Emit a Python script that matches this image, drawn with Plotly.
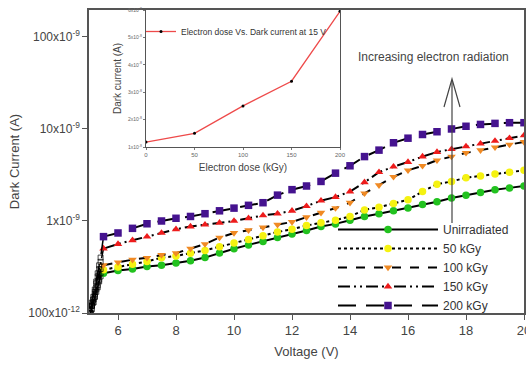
import plotly.graph_objects as go

# ---------------- data ----------------
voltage = [5.5, 6, 6.5, 7, 7.5, 8, 8.5, 9, 9.5, 10, 10.5, 11, 11.5, 12, 12.5,
           13, 13.5, 14, 14.5, 15, 15.5, 16, 16.5, 17, 17.5, 18, 18.5, 19, 19.5, 20]

# dark current in nA
unirradiated = [0.27, 0.29, 0.30, 0.32, 0.33, 0.35, 0.37, 0.40, 0.45, 0.50, 0.55, 0.60, 0.66, 0.72, 0.79,
                0.87, 0.93, 1.02, 1.12, 1.20, 1.29, 1.38, 1.51, 1.62, 1.78, 1.91, 2.04, 2.19, 2.29, 2.40]
kgy50 = [0.295, 0.316, 0.339, 0.363, 0.398, 0.417, 0.447, 0.479, 0.525, 0.575, 0.631, 0.692, 0.759, 0.813, 0.891,
         0.955, 1.02, 1.12, 1.32, 1.41, 1.55, 1.70, 2.09, 2.51, 2.69, 2.95, 3.09, 3.24, 3.39, 3.55]
kgy100 = [0.331, 0.355, 0.380, 0.398, 0.427, 0.447, 0.501, 0.562, 0.661, 0.741, 0.794, 0.851, 0.912, 0.977, 1.10,
          1.23, 1.38, 1.58, 2.00, 2.45, 3.02, 3.55, 3.98, 4.57, 5.01, 5.50, 5.89, 6.31, 6.76, 7.24]
kgy150 = [0.501, 0.562, 0.617, 0.676, 0.741, 0.813, 0.871, 0.912, 0.955, 1.00, 1.07, 1.15, 1.20, 1.29, 1.45,
          1.66, 1.82, 2.09, 2.63, 3.39, 3.89, 4.37, 5.01, 5.62, 6.03, 6.46, 6.92, 7.41, 7.94, 8.51]
kgy200 = [0.676, 0.741, 0.832, 0.933, 1.00, 1.07, 1.12, 1.20, 1.29, 1.38, 1.48, 1.58, 1.91, 2.19, 2.40,
          2.69, 3.31, 3.98, 5.01, 5.89, 7.08, 7.94, 8.71, 9.33, 10.0, 10.7, 11.2, 11.5, 11.7, 11.7]

# turn-on region (dense measurement points, nA)
rise_voltage = [5.05, 5.1, 5.15, 5.2, 5.25, 5.3, 5.35, 5.4]
rise_unirradiated = [0.10, 0.11, 0.13, 0.15, 0.17, 0.19, 0.22, 0.25]
rise_50 = [0.10, 0.12, 0.13, 0.15, 0.18, 0.20, 0.23, 0.27]
rise_100 = [0.10, 0.12, 0.14, 0.16, 0.19, 0.22, 0.26, 0.30]
rise_150 = [0.10, 0.12, 0.14, 0.17, 0.21, 0.25, 0.30, 0.36]
rise_200 = [0.11, 0.13, 0.15, 0.18, 0.22, 0.27, 0.33, 0.40]

series_names = ["Unirradiated", "50 kGy", "100 kGy", "150 kGy", "200 kGy"]

# inset: dark current at 15 V vs dose
dose = [0, 50, 100, 150, 200]
current_15v = [1.18, 1.5, 2.5, 3.4, 5.95]  # x1e-8 A

main_tickvals = [1e-10, 1e-9, 1e-8, 1e-7]
main_ticktext = ["100x10<sup>-12</sup>", "1x10<sup>-9</sup>", "10x10<sup>-9</sup>", "100x10<sup>-9</sup>"]
inset_tickvals = [1, 2, 3, 4, 5, 6]
inset_ticktext = ["%dx10<sup>-8</sup>" % v for v in inset_tickvals]

# ---------------- styles ----------------
series_values = [unirradiated, kgy50, kgy100, kgy150, kgy200]
rise_values = [rise_unirradiated, rise_50, rise_100, rise_150, rise_200]
colors = ["#22c21f", "#f5f211", "#f08a24", "#ee1c1c", "#45138f"]
symbols = ["circle", "circle", "triangle-down", "triangle-up", "square"]
dashes = ["solid", "dot", "dash", "12px,4px,2px,4px,2px,4px", "18px,10px"]

FONT = "Liberation Sans, Arial, sans-serif"

fig = go.Figure()

for name, vals, rvals, col, sym, dash in zip(series_names, series_values, rise_values, colors, symbols, dashes):
    fig.add_trace(go.Scatter(
        x=rise_voltage + [voltage[0]],
        y=[v * 1e-9 for v in rvals + [vals[0]]],
        mode="lines+markers",
        line=dict(color="black", width=1.5, dash=dash),
        marker=dict(symbol="square-open", size=[5] * len(rvals) + [0], color="black",
                    line=dict(width=1)),
        showlegend=False, hoverinfo="skip",
    ))
    fig.add_trace(go.Scatter(
        x=voltage, y=[v * 1e-9 for v in vals],
        mode="lines+markers", name=name,
        line=dict(color="black", width=2, dash=dash),
        marker=dict(symbol=sym, size=7.5, color=col, line=dict(width=0)),
    ))

fig.add_trace(go.Scatter(
    x=dose, y=current_15v, xaxis="x2", yaxis="y2",
    mode="lines+markers", name="Electron dose Vs. Dark current at 15 V",
    line=dict(color="#ee4a4a", width=1.3),
    marker=dict(symbol="circle", size=3, color="black"),
    legend="legend2",
))

L, R, T, B = 89, 2, 10, 52
W, H = 526, 365
pw, ph = W - L - R, H - T - B

def px(x):
    return (x - L) / pw

def py(y):
    return (H - B - y) / ph

fig.update_layout(
    width=W, height=H,
    margin=dict(l=L, r=R, t=T, b=B, autoexpand=False),
    paper_bgcolor="white", plot_bgcolor="white",
    font=dict(family=FONT, color="#444"),
    xaxis=dict(
        range=[5, 20], tickvals=[6, 8, 10, 12, 14, 16, 18, 20],
        ticks="outside", ticklen=5, tickwidth=1.2, tickcolor="#555",
        tickfont=dict(size=13, color="#444"), ticklabeloverflow="allow",
        showline=True, linecolor="#555", linewidth=1.5, mirror=True,
        showgrid=False, zeroline=False,
        title=dict(text="Voltage (V)", font=dict(size=13, color="#444"), standoff=10),
        automargin=False,
    ),
    yaxis=dict(
        type="log", range=[-10, -6.707],
        tickvals=main_tickvals, ticktext=main_ticktext,
        ticks="outside", ticklen=5, tickwidth=1.2, tickcolor="#555",
        tickfont=dict(size=12, color="#444"),
        showline=True, linecolor="#555", linewidth=1.5, mirror=True,
        showgrid=False, zeroline=False,
        title=dict(text="Dark Current (A)", font=dict(size=13, color="#444"), standoff=6),
        automargin=False,
    ),
    xaxis2=dict(
        domain=[px(146), px(340)], anchor="y2", range=[0, 200],
        tickvals=[0, 50, 100, 150, 200],
        ticks="outside", ticklen=2, tickcolor="#777", tickfont=dict(size=6, color="#666"),
        showline=True, linecolor="#555", linewidth=1.2, mirror=True,
        showgrid=False, zeroline=False,
        title=dict(text="Electron dose (kGy)", font=dict(size=10, color="#444"), standoff=6),
    ),
    yaxis2=dict(
        domain=[py(147), py(10)], anchor="x2", range=[1, 6],
        tickvals=inset_tickvals, ticktext=inset_ticktext,
        ticks="outside", ticklen=2, tickcolor="#777", tickfont=dict(size=5, color="#666"),
        showline=True, linecolor="#555", linewidth=1.2, mirror=True,
        showgrid=False, zeroline=False,
        title=dict(text="Dark current (A)", font=dict(size=10, color="#444"), standoff=4),
    ),
    legend=dict(
        x=px(333), y=py(215), xanchor="left", yanchor="top",
        font=dict(size=12, color="#333", family=FONT),
        itemwidth=100, bgcolor="rgba(255,255,255,0)", tracegroupgap=0,
    ),
    legend2=dict(
        x=px(141), y=py(17), xanchor="left", yanchor="top",
        font=dict(size=8.5, color="#333", family=FONT),
        bgcolor="rgba(255,255,255,0)",
    ),
    shapes=[
        dict(type="line", xref="paper", yref="paper",
             x0=px(452), x1=px(452), y0=py(223), y1=py(80),
             line=dict(color="#444", width=1.2)),
        dict(type="path", xref="paper", yref="paper",
             path="M %f,%f L %f,%f L %f,%f" % (px(444), py(107), px(452), py(79), px(460), py(107)),
             line=dict(color="#444", width=1.2)),
    ],
    annotations=[
        dict(text="Increasing electron radiation", xref="paper", yref="paper",
             x=px(433), y=py(57), xanchor="center", yanchor="middle", showarrow=False,
             font=dict(size=12, color="#444", family=FONT)),
    ],
)

fig.write_html("out.html", config={"displayModeBar": False},
               post_script="document.body.style.margin='0';")
